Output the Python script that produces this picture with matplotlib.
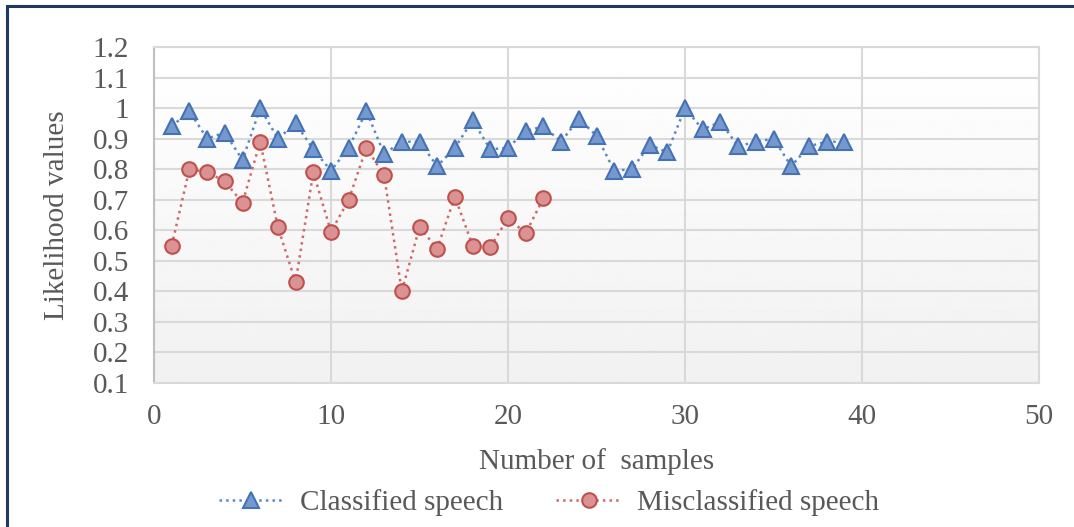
import matplotlib
matplotlib.use('Agg')
import matplotlib.pyplot as plt
from matplotlib.patches import Rectangle
import numpy as np

plt.rcParams['font.family'] = ['Liberation Serif', 'DejaVu Serif']

# likelihood per sample
classified_x = np.arange(1, 40)
classified_y = [0.94, 0.99, 0.90, 0.92, 0.83, 1.00, 0.90, 0.95, 0.865, 0.795,
                0.87, 0.99, 0.85, 0.89, 0.89, 0.81, 0.87, 0.96, 0.865, 0.87,
                0.925, 0.94, 0.89, 0.965, 0.91, 0.795, 0.80, 0.88, 0.855, 1.00,
                0.93, 0.955, 0.875, 0.89, 0.90, 0.81, 0.875, 0.89, 0.89]

misclassified_x = np.arange(1, 23)
misclassified_y = [0.55, 0.80, 0.79, 0.76, 0.69, 0.89, 0.61, 0.43, 0.79, 0.595,
                   0.70, 0.87, 0.78, 0.40, 0.61, 0.54, 0.71, 0.55, 0.545, 0.64,
                   0.59, 0.705]

x_ticks = np.arange(0, 51, 10)
y_ticks = np.round(np.arange(0.1, 1.21, 0.1), 1)

W, H = 1074, 527
fig = plt.figure(figsize=(W / 100, H / 100), dpi=100)
ax = fig.add_axes([154 / W, 1 - 383 / H, 885 / W, 336 / H])

# soft vertical shading of the plot area
grad = np.linspace(1.0, 0.945, 256).reshape(-1, 1)
ax.imshow(grad, cmap='gray', vmin=0, vmax=1, aspect='auto',
          extent=[0, 1, 0, 1], transform=ax.transAxes, zorder=0)

ax.set_xlim(0, 50)
ax.set_ylim(0.1, 1.2)
ax.set_xticks(x_ticks)
ax.set_yticks(y_ticks)
ax.set_yticklabels(['%g' % v for v in y_ticks])
ax.grid(True, color='#d9d9d9', linewidth=1.5, zorder=1)
ax.tick_params(length=0, labelsize=21, labelcolor='#595959')
ax.tick_params(axis='y', pad=18)
ax.tick_params(axis='x', pad=15)
for side in ['top', 'right', 'bottom']:
    ax.spines[side].set_color('#d9d9d9')
    ax.spines[side].set_linewidth(1.5)
ax.spines['left'].set_color('#bfbfbf')
ax.spines['left'].set_linewidth(1.5)

ax.plot(classified_x, classified_y, linestyle=':', color='#5b87c7', linewidth=1.8,
        marker='^', markersize=11, markerfacecolor='#7598cf',
        markeredgecolor='#4472b4', markeredgewidth=1.5,
        label='Classified speech', zorder=3)
ax.plot(misclassified_x, misclassified_y, linestyle=':', color='#cf6a68', linewidth=1.8,
        marker='o', markersize=10.5, markerfacecolor='#da9392',
        markeredgecolor='#c0504d', markeredgewidth=1.5,
        label='Misclassified speech', zorder=3)

ax.set_xlabel('Number of  samples', fontsize=21, color='#595959', labelpad=13)
ax.set_ylabel('Likelihood values', fontsize=21, color='#595959', labelpad=16)

fig.legend(loc='center', bbox_to_anchor=(549 / W, 1 - 503 / H), ncol=2,
           frameon=False, fontsize=21, labelcolor='#595959',
           handlelength=2.25, columnspacing=1.8, handletextpad=0.55)

# frame around the chart
fig.patches.append(Rectangle((7 / W, -0.1), 1.2, 1 - 6 / H + 0.1,
                             transform=fig.transFigure, fill=False,
                             edgecolor='#1f3864', linewidth=2.2))

fig.savefig('out.png', dpi=100)
